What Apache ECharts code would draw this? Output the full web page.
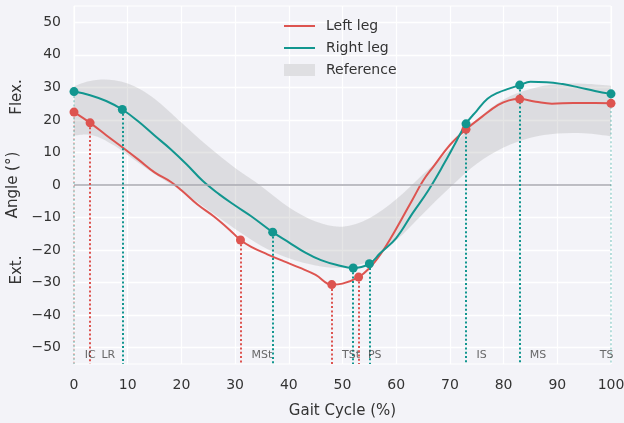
<!DOCTYPE html>
<html lang="en">
<head>
    <meta charset="UTF-8">
    <title>Gait cycle</title>
    <script src="https://cdn.jsdelivr.net/npm/echarts@6/dist/echarts.min.js"></script>
    <style>
        html, body { margin: 0; padding: 0; background: #f3f3f8; }
        #main { width: 624px; height: 423px; }
    </style>
</head>
<body>
<div id="main"></div>
<script>
    // curves
    var leftX = [0, 3, 6, 9, 12, 15, 18, 20, 23, 26, 29, 31, 33, 36, 39, 42, 45, 48, 50, 53, 55, 57, 59, 61, 63, 65, 67, 70, 73, 76, 79, 81, 83, 86, 89, 93, 97, 100];
    var leftY = [22.4, 19.1, 15.3, 11.6, 7.8, 3.9, 1.0, -1.6, -6.0, -9.6, -13.8, -16.9, -19.0, -21.3, -23.4, -25.4, -27.6, -30.6, -30.3, -28.3, -25.6, -21.5, -16.3, -10.5, -4.6, 1.3, 5.8, 12.3, 17.1, 21.0, 24.6, 26.0, 26.4, 25.6, 25.0, 25.2, 25.2, 25.1];
    var rightX = [0, 3, 6, 9, 12, 15, 18, 21, 24, 27, 30, 33, 37, 40, 43, 46, 49, 52, 55, 57, 60, 63, 66, 69, 71, 73, 75, 77, 79, 81, 83, 85, 88, 91, 94, 97, 100];
    var rightY = [28.7, 27.6, 25.8, 23.2, 19.5, 15.2, 11.0, 6.3, 1.2, -2.8, -6.3, -9.6, -14.5, -17.6, -20.7, -23.1, -24.6, -25.5, -24.2, -21.0, -16.3, -8.8, -1.6, 6.8, 12.8, 18.8, 22.8, 26.5, 28.4, 29.6, 30.7, 31.7, 31.6, 31.0, 30.0, 28.9, 28.0];

    // reference band
    var refX = [0, 2.5, 5, 7.5, 10, 12.5, 15, 17.5, 20, 25, 30, 35, 40, 45, 50, 55, 60, 65, 70, 75, 80, 85, 90, 95, 100];
    var refUpper = [30.3, 31.8, 32.4, 32.2, 31.2, 29.3, 26.5, 23.0, 19.2, 11.8, 5.2, -0.5, -6.8, -11.2, -12.8, -10.2, -4.4, 3.3, 11.0, 20.0, 26.3, 29.5, 31.0, 31.1, 30.5];
    var refLower = [15.2, 15.5, 14.4, 12.1, 9.2, 6.2, 3.4, 0.8, -1.8, -7.7, -13.5, -18.8, -22.5, -24.7, -25.4, -23.3, -17.0, -8.8, -0.8, 6.5, 11.5, 14.5, 15.8, 15.9, 15.0];

    // gait events
    var leftEventX = [0, 3, 31, 48, 53, 73, 83, 100];
    var leftEventY = [22.4, 19.1, -16.9, -30.6, -28.3, 17.1, 26.4, 25.1];
    var rightEventX = [0, 9, 37, 52, 55, 73, 83, 100];
    var rightEventY = [28.7, 23.2, -14.5, -25.5, -24.2, 18.8, 30.7, 28.0];

    // phase labels
    var phaseNames = ['IC', 'LR', 'MSt', 'TSt', 'PS', 'IS', 'MS', 'TS'];
    var phaseX = [3.0, 6.4, 35.0, 51.6, 56.0, 75.9, 86.4, 99.2];
    var phaseY = -52.3;

    var xTicks = [0, 10, 20, 30, 40, 50, 60, 70, 80, 90, 100];
    var yTicks = [-50, -40, -30, -20, -10, 0, 10, 20, 30, 40, 50];

    var RED = '#dd5450', TEAL = '#12968f', FONT = 'DejaVu Sans';
    var YMIN = -55, YMAX = 55;
    // thin line used as legend icon (tiny corner points keep the box size)
    var LINE_ICON = 'path://M0,0 L0.01,0 L0,0.01 Z M0,6.1 L31,6.1 L31,7.9 L0,7.9 Z M31,14 L30.99,14 L31,13.99 Z';

    function zip(xs, ys) {
        var out = [];
        for (var i = 0; i < xs.length; i++) out.push([xs[i], ys[i]]);
        return out;
    }
    function minus(v) { return String(v).replace('-', '\u2212'); }

    // dotted drop lines; skip the ones hidden under the other leg's line
    function eventLines(xs, ys, hidden) {
        var out = [];
        for (var i = 0; i < xs.length; i++) {
            if (hidden && hidden.indexOf(xs[i]) >= 0) continue;
            var edge = (xs[i] === 0 || xs[i] === 100);
            out.push([
                {coord: [xs[i], ys[i]], lineStyle: {opacity: edge ? 0.3 : 1}},
                {coord: [xs[i], YMIN]}
            ]);
        }
        return out;
    }

    // catmull-rom through pixel points -> svg path segments
    function splinePath(pts, start) {
        var d = start ? 'M' + pts[0][0] + ',' + pts[0][1] : 'L' + pts[0][0] + ',' + pts[0][1];
        for (var i = 0; i < pts.length - 1; i++) {
            var p0 = pts[i - 1] || pts[i], p1 = pts[i], p2 = pts[i + 1], p3 = pts[i + 2] || pts[i + 1];
            var c1x = p1[0] + (p2[0] - p0[0]) / 6, c1y = p1[1] + (p2[1] - p0[1]) / 6;
            var c2x = p2[0] - (p3[0] - p1[0]) / 6, c2y = p2[1] - (p3[1] - p1[1]) / 6;
            d += ' C' + c1x + ',' + c1y + ' ' + c2x + ',' + c2y + ' ' + p2[0] + ',' + p2[1];
        }
        return d;
    }

    function renderBand(params, api) {
        if (params.dataIndex !== 0) return;
        var up = [], lo = [];
        for (var i = 0; i < refX.length; i++) {
            up.push(api.coord([refX[i], refUpper[i]]));
            lo.push(api.coord([refX[i], refLower[i]]));
        }
        lo.reverse();
        var d = splinePath(up, true) + ' ' + splinePath(lo, false) + ' Z';
        return {
            type: 'path',
            shape: {pathData: d},
            style: {fill: 'rgba(170,170,170,0.3)', stroke: null}
        };
    }

    var chart = echarts.init(document.getElementById('main'));
    var option = {
        backgroundColor: '#f3f3f8',
        animation: false,
        textStyle: {fontFamily: FONT},
        grid: {
            left: 74, right: 13, top: 6, bottom: 59, outerBoundsMode: 'none',
            show: true, borderColor: '#ffffff', borderWidth: 1, backgroundColor: '#f3f3f8'
        },
        legend: {
            orient: 'vertical', left: 279, top: 14, itemWidth: 31, itemHeight: 14, itemGap: 8,
            textStyle: {fontSize: 14, color: '#333', fontFamily: FONT, padding: [0, 0, 0, 6]},
            data: [
                {name: 'Left leg', icon: LINE_ICON, itemStyle: {color: RED}},
                {name: 'Right leg', icon: LINE_ICON, itemStyle: {color: TEAL}},
                {name: 'Reference', icon: 'path://M0,1 L31,1 L31,13 L0,13 Z', itemStyle: {color: '#dfdfe2'}}
            ]
        },
        xAxis: {
            type: 'value', min: 0, max: 100, interval: 10,
            name: 'Gait Cycle (%)', nameLocation: 'middle', nameGap: 40,
            nameTextStyle: {fontSize: 15, color: '#333', fontFamily: FONT},
            axisLine: {show: false}, axisTick: {show: false},
            axisLabel: {fontSize: 14, color: '#333', margin: 14, customValues: xTicks},
            splitLine: {lineStyle: {color: '#ffffff', width: 1.3}}
        },
        yAxis: {
            type: 'value', min: YMIN, max: YMAX,
            name: 'Angle (°)', nameLocation: 'middle', nameGap: 47,
            nameTextStyle: {fontSize: 15, color: '#333', fontFamily: FONT},
            axisLine: {show: false},
            axisTick: {show: false, customValues: yTicks},
            axisLabel: {fontSize: 14, color: '#333', margin: 13, customValues: yTicks, formatter: minus},
            splitLine: {lineStyle: {color: '#ffffff', width: 1.3}}
        },
        graphic: [
            {type: 'text', x: 17, y: 97, rotation: Math.PI / 2, style: {text: 'Flex.', fontSize: 15, fontFamily: FONT, fill: '#333', align: 'center', verticalAlign: 'middle'}},
            {type: 'text', x: 17, y: 270, rotation: Math.PI / 2, style: {text: 'Ext.', fontSize: 15, fontFamily: FONT, fill: '#333', align: 'center', verticalAlign: 'middle'}}
        ],
        series: [
            {
                name: 'Reference', type: 'custom', renderItem: renderBand, silent: true, z: 1,
                data: zip(refX, refUpper), itemStyle: {color: '#dfdfe2'}
            },
            {
                name: 'zero', type: 'line', data: [], z: 2, silent: true,
                markLine: {
                    silent: true, symbol: 'none', label: {show: false},
                    lineStyle: {color: '#a8a8b0', width: 1.6, type: 'solid'},
                    data: [{yAxis: 0}]
                }
            },
            {
                name: 'Left leg', type: 'line', data: zip(leftX, leftY), smooth: 0.4,
                symbol: 'none', z: 3, itemStyle: {color: RED}, lineStyle: {color: RED, width: 2}
            },
            {
                name: 'Right leg', type: 'line', data: zip(rightX, rightY), smooth: 0.4,
                symbol: 'none', z: 4, itemStyle: {color: TEAL}, lineStyle: {color: TEAL, width: 2}
            },
            {
                name: 'leftEvents', type: 'scatter', data: zip(leftEventX, leftEventY),
                symbolSize: 9, z: 5, itemStyle: {color: RED, opacity: 1},
                markLine: {
                    silent: true, symbol: 'none', label: {show: false}, animation: false,
                    lineStyle: {color: RED, width: 2, type: [2, 2.3]},
                    data: eventLines(leftEventX, leftEventY, rightEventX.slice(1))
                }
            },
            {
                name: 'rightEvents', type: 'scatter', data: zip(rightEventX, rightEventY),
                symbolSize: 9, z: 6, itemStyle: {color: TEAL, opacity: 1},
                markLine: {
                    silent: true, symbol: 'none', label: {show: false}, animation: false,
                    lineStyle: {color: TEAL, width: 2, type: [2, 2.3]},
                    data: eventLines(rightEventX, rightEventY, null)
                }
            },
            {
                name: 'phases', type: 'scatter', symbolSize: 0, z: 7, silent: true,
                data: phaseNames.map(function (n, i) { return {name: n, value: [phaseX[i], phaseY]}; }),
                label: {show: true, position: 'inside', formatter: '{b}', fontSize: 11, color: '#444', fontFamily: FONT}
            }
        ]
    };
    chart.setOption(option);
</script>
</body>
</html>
